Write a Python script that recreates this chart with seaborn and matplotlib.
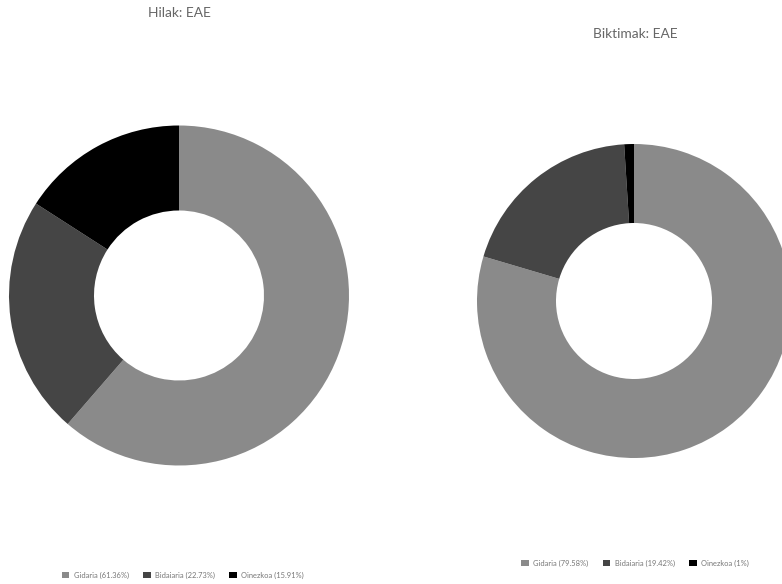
import matplotlib
matplotlib.use("Agg")
import matplotlib.pyplot as plt
import seaborn as sns
from matplotlib.patches import Patch

sns.set_theme(style="white")
plt.rcParams['font.family'] = ['Lato', 'DejaVu Sans']

categories = ["Gidaria", "Bidaiaria", "Oinezkoa"]
hilak_values = [61.36, 22.73, 15.91]
biktimak_values = [79.58, 19.42, 1.0]
hilak_labels = ["Gidaria (61.36%)", "Bidaiaria (22.73%)", "Oinezkoa (15.91%)"]
biktimak_labels = ["Gidaria (79.58%)", "Bidaiaria (19.42%)", "Oinezkoa (1%)"]
titles = ["Hilak: EAE", "Biktimak: EAE"]
colors = ["#8a8a8a", "#454545", "#000000"]

W, H = 782, 584
fig = plt.figure(figsize=(W / 100, H / 100), dpi=100)
fig.patch.set_facecolor("white")

def px_axes(cx, cy, r):
    return fig.add_axes([(cx - r) / W, (H - (cy + r)) / H, 2 * r / W, 2 * r / H])

def donut(ax, values, hole_frac):
    ax.pie(values, colors=colors, startangle=90, counterclock=False,
           wedgeprops=dict(width=1 - hole_frac, edgecolor="none"), radius=1)
    ax.set_xlim(-1, 1)
    ax.set_ylim(-1, 1)
    ax.set_aspect("equal")
    ax.axis("off")

ax1 = px_axes(179, 295.5, 170)
donut(ax1, hilak_values, 85 / 170)
ax2 = px_axes(634, 301, 157)
donut(ax2, biktimak_values, 78 / 157)

fig.text(179.5 / W, 1 - 13 / H, titles[0], ha="center", va="center", fontsize=9.9, color="#666666")
fig.text(635 / W, 1 - 34 / H, titles[1], ha="center", va="center", fontsize=9.9, color="#666666")

def legend(labels, x, y):
    handles = [Patch(facecolor=c, edgecolor="none") for c in colors]
    fig.legend(handles, labels, loc="center", bbox_to_anchor=(x / W, 1 - y / H), ncol=3,
               frameon=False, fontsize=5.4, handlelength=1.0, handleheight=1.0,
               handletextpad=0.6, columnspacing=1.9, labelcolor="#777777")

legend(hilak_labels, 183, 575)
legend(biktimak_labels, 635, 563)

fig.savefig("out.png", dpi=100, facecolor="white")
